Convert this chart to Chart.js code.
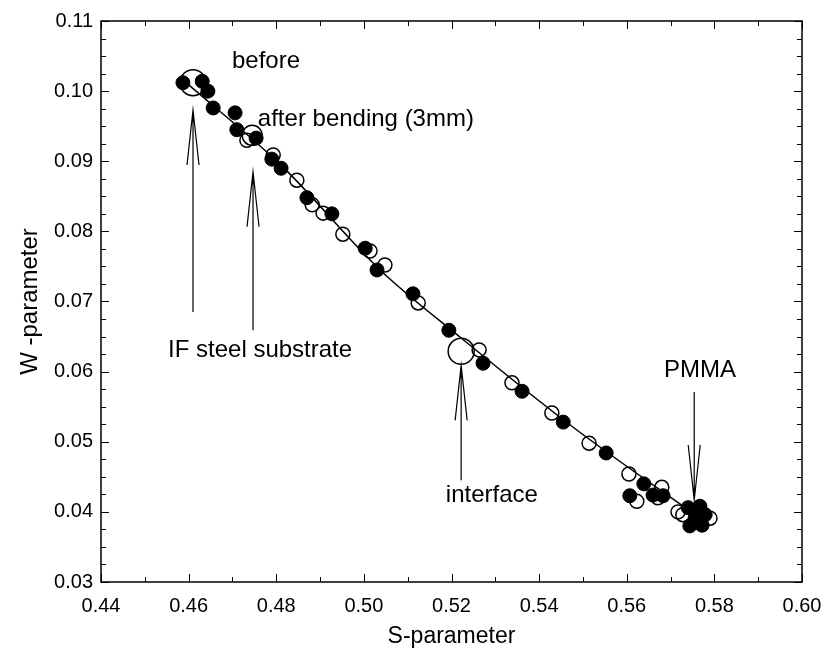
<!DOCTYPE html>
<html>
<head>
<meta charset="utf-8">
<script src="https://cdn.jsdelivr.net/npm/chart.js@4.4.0/dist/chart.umd.min.js"></script>
<style>
  html, body { margin: 0; padding: 0; background: #fff; }
  #wrap { width: 827px; height: 655px; }
</style>
</head>
<body>
<div id="wrap"><canvas id="grafico-sw"></canvas></div>
<script>
// Pontos cheios (S, W)
var cheiosS = [0.4587, 0.4631, 0.4644, 0.4656, 0.4706, 0.4710, 0.4754, 0.4790, 0.4811, 0.4870,
               0.4927, 0.5003, 0.5030, 0.5112, 0.5194, 0.5272, 0.5361, 0.5455, 0.5553, 0.5639,
               0.5607, 0.5660, 0.5683, 0.5740, 0.5767, 0.5756, 0.5779, 0.5744, 0.5772];
var cheiosW = [0.1012, 0.1014, 0.1000, 0.0976, 0.0969, 0.0945, 0.0933, 0.0903, 0.0890, 0.0848,
               0.0825, 0.0776, 0.0745, 0.0711, 0.0659, 0.0612, 0.0572, 0.0528, 0.0484, 0.0440,
               0.0423, 0.0424, 0.0423, 0.0406, 0.0408, 0.0391, 0.0396, 0.0380, 0.0381];

// Pontos abertos (S, W)
var abertosS = [0.4733, 0.4793, 0.4847, 0.4882, 0.4907, 0.4952, 0.5014, 0.5048, 0.5124, 0.5263,
                0.5338, 0.5429, 0.5514, 0.5605, 0.5623, 0.5680, 0.5671, 0.5717, 0.5728, 0.5790,
                0.5767];
var abertosW = [0.0930, 0.0909, 0.0873, 0.0838, 0.0826, 0.0796, 0.0772, 0.0752, 0.0698, 0.0631,
                0.0584, 0.0541, 0.0498, 0.0454, 0.0415, 0.0435, 0.0420, 0.0400, 0.0396, 0.0391,
                0.0386];

// Círculos grandes (before, after bending, interface)
var grandesS = [0.4610, 0.4745, 0.5222];
var grandesW = [0.1012, 0.0937, 0.0629];

// Curva ajustada
var curvaS = [0.4587, 0.4813, 0.5037, 0.5222, 0.5477, 0.5767];
var curvaW = [0.1016, 0.0893, 0.0745, 0.0648, 0.0521, 0.0391];

// Textos das anotações
var textos = ['before', 'after bending (3mm)', 'IF steel substrate', 'interface', 'PMMA'];
var textosS = [0.4699, 0.4758, 0.4553, 0.5187, 0.5685];
var textosW = [0.1042, 0.0960, 0.0631, 0.0424, 0.0602];

// Setas: x, ponta e cauda
var setasS = [0.4610, 0.4747, 0.5222, 0.5754];
var setasPonta = [0.0973, 0.0885, 0.0609, 0.0417];
var setasCauda = [0.0685, 0.0659, 0.0445, 0.0571];

function pares(xs, ys) {
    return xs.map(function(x, i) { return { x: x, y: ys[i] }; });
}

var fonte = '"Liberation Sans", Arial, Helvetica, sans-serif';

// Plugin para moldura, ticks internos e anotações
var extras = {
    id: 'extras',
    afterDatasetsDraw: function(chart) {
        var ctx = chart.ctx;
        var a = chart.chartArea;
        var sx = chart.scales.x;
        var sy = chart.scales.y;
        ctx.save();
        ctx.strokeStyle = '#000';
        ctx.lineWidth = 1.5;
        ctx.strokeRect(a.left, a.top, a.right - a.left, a.bottom - a.top);

        ctx.lineWidth = 1;
        ctx.beginPath();
        for (var i = 0; i <= 16; i++) {
            var px = Math.round(sx.getPixelForValue(0.44 + i * 0.01)) + 0.5;
            var len = (i % 2 === 0) ? 8 : 5;
            ctx.moveTo(px, a.bottom); ctx.lineTo(px, a.bottom - len);
            ctx.moveTo(px, a.top); ctx.lineTo(px, a.top + len);
        }
        for (var j = 0; j <= 32; j++) {
            var py = Math.round(sy.getPixelForValue(0.03 + j * 0.0025)) + 0.5;
            var l2 = (j % 4 === 0) ? 8 : 5;
            ctx.moveTo(a.left, py); ctx.lineTo(a.left + l2, py);
            ctx.moveTo(a.right, py); ctx.lineTo(a.right - l2, py);
        }
        ctx.stroke();

        // Setas com cabeça aberta
        ctx.lineWidth = 1.2;
        setasS.forEach(function(s, k) {
            var x = sx.getPixelForValue(s);
            var yp = sy.getPixelForValue(setasPonta[k]);
            var yc = sy.getPixelForValue(setasCauda[k]);
            var dir = yc > yp ? 1 : -1;
            ctx.beginPath();
            ctx.moveTo(x, yc); ctx.lineTo(x, yp);
            ctx.moveTo(x - 6, yp + dir * 55); ctx.lineTo(x, yp); ctx.lineTo(x + 6, yp + dir * 55);
            ctx.stroke();
        });

        // Textos
        ctx.fillStyle = '#000';
        ctx.font = '24px ' + fonte;
        ctx.textBaseline = 'middle';
        ctx.textAlign = 'left';
        textos.forEach(function(t, k) {
            ctx.fillText(t, sx.getPixelForValue(textosS[k]), sy.getPixelForValue(textosW[k]));
        });
        ctx.restore();
    }
};

var ctx = document.getElementById('grafico-sw').getContext('2d');

var myChart = new Chart(ctx, {
    type: 'scatter',
    data: {
        datasets: [{
            type: 'line',
            data: pares(curvaS, curvaW),
            borderColor: '#000',
            borderWidth: 1.5,
            pointRadius: 0,
            cubicInterpolationMode: 'monotone',
            fill: false
        }, {
            data: pares(cheiosS, cheiosW),
            backgroundColor: '#000',
            borderColor: '#000',
            borderWidth: 1,
            pointRadius: 7
        }, {
            data: pares(abertosS, abertosW),
            backgroundColor: 'rgba(255,255,255,0)',
            borderColor: '#000',
            borderWidth: 1.5,
            pointRadius: 7
        }, {
            data: pares(grandesS, grandesW),
            backgroundColor: 'rgba(255,255,255,0)',
            borderColor: '#000',
            borderWidth: 1.5,
            pointRadius: [13, 10, 13]
        }]
    },
    options: {
        responsive: true,
        maintainAspectRatio: false,
        animation: false,
        layout: { padding: { left: 0, top: 21, right: 25, bottom: 0 } },
        plugins: { legend: { display: false }, tooltip: { enabled: false } },
        scales: {
            x: {
                type: 'linear',
                min: 0.44,
                max: 0.60,
                grid: { display: false, drawTicks: false },
                border: { display: false },
                ticks: {
                    stepSize: 0.02,
                    color: '#000',
                    padding: 12,
                    font: { family: fonte, size: 20 },
                    callback: function(v) { return v.toFixed(2); }
                },
                title: {
                    display: true,
                    text: 'S-parameter',
                    color: '#000',
                    font: { family: fonte, size: 23 },
                    padding: { top: 0, bottom: 5 }
                },
                afterFit: function(s) {
                    s.height = 73;
                    s.paddingLeft = 0;
                    s.paddingRight = 0;
                }
            },
            y: {
                type: 'linear',
                min: 0.03,
                max: 0.11,
                grid: { display: false, drawTicks: false },
                border: { display: false },
                ticks: {
                    stepSize: 0.01,
                    color: '#000',
                    padding: 8,
                    font: { family: fonte, size: 20 },
                    callback: function(v) { return v.toFixed(2); }
                },
                title: {
                    display: true,
                    text: 'W -parameter',
                    color: '#000',
                    font: { family: fonte, size: 24 },
                    padding: { top: 16, bottom: 0 }
                },
                afterFit: function(s) {
                    s.width = 101;
                    s.paddingTop = 0;
                    s.paddingBottom = 0;
                }
            }
        }
    },
    plugins: [extras]
});
</script>
</body>
</html>
